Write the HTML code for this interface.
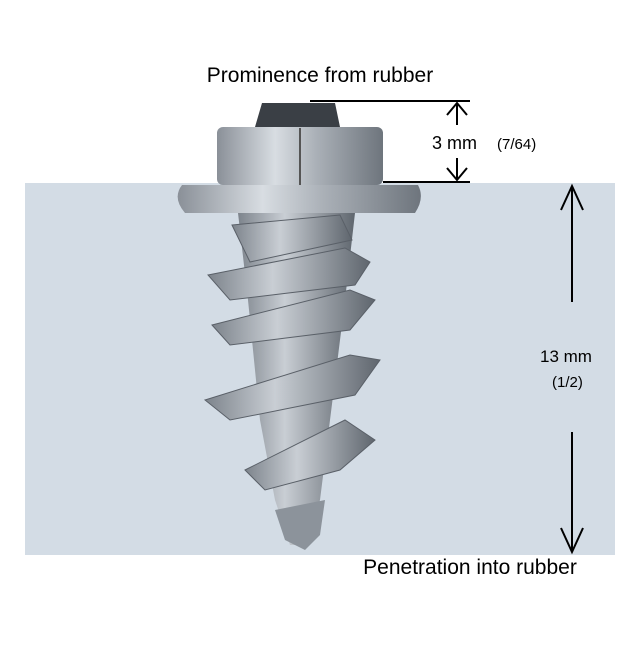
<!DOCTYPE html>
<html><head><style>
body{margin:0;width:640px;height:640px;background:#fff;overflow:hidden;font-family:"Liberation Sans",sans-serif}
</style></head><body>
<svg width="640" height="640" viewBox="0 0 640 640" xmlns="http://www.w3.org/2000/svg">
<defs>
<linearGradient id="m" x1="0" x2="1" y1="0" y2="0">
<stop offset="0" stop-color="#8a9098"/><stop offset="0.35" stop-color="#d8dde2"/><stop offset="0.6" stop-color="#aab0b7"/><stop offset="1" stop-color="#6e757d"/>
</linearGradient>
<linearGradient id="t" x1="0" x2="1" y1="0" y2="0">
<stop offset="0" stop-color="#7d848c"/><stop offset="0.4" stop-color="#c9ced4"/><stop offset="1" stop-color="#5f666e"/>
</linearGradient>
</defs>
<rect x="25" y="183" width="590" height="372" fill="#d3dce5"/>
<path d="M262 103 L335 103 L340 127 L255 127 Z" fill="#3a3f45"/>
<rect x="217" y="127" width="166" height="58" rx="6" fill="url(#m)"/>
<line x1="300" y1="128" x2="300" y2="185" stroke="#555" stroke-width="2"/>
<path d="M182 185 L418 185 Q425 198 415 213 L185 213 Q172 198 182 185Z" fill="url(#m)"/>
<path d="M238 213 L355 213 L345 300 L330 420 L320 500 L305 545 L290 545 L275 500 L260 420 L248 300 Z" fill="url(#t)"/>
<path d="M232 225 L340 215 L352 240 L250 262 Z" fill="url(#t)" stroke="#5a6068"/>
<path d="M208 275 L345 248 L370 262 L355 285 L230 300 Z" fill="url(#t)" stroke="#5a6068"/>
<path d="M212 325 L350 290 L375 300 L350 330 L230 345 Z" fill="url(#t)" stroke="#5a6068"/>
<path d="M205 400 L350 355 L380 360 L355 395 L230 420 Z" fill="url(#t)" stroke="#5a6068"/>
<path d="M245 470 L345 420 L375 440 L340 470 L265 490 Z" fill="url(#t)" stroke="#5a6068"/>
<path d="M275 510 L325 500 L320 535 L305 550 L285 540 Z" fill="#8c939b"/>
<g stroke="#000" stroke-width="2" fill="none">
<line x1="310" y1="101" x2="470" y2="101"/>
<line x1="383" y1="182" x2="470" y2="182"/>
<line x1="457" y1="103" x2="457" y2="125"/><path d="M447 115 L457 103 L467 115"/>
<line x1="457" y1="158" x2="457" y2="180"/><path d="M447 168 L457 180 L467 168"/>
<line x1="572" y1="186" x2="572" y2="302"/><path d="M561 210 L572 186 L583 210"/>
<line x1="572" y1="432" x2="572" y2="552"/><path d="M561 528 L572 552 L583 528"/>
</g>
<g font-family="Liberation Sans, sans-serif" fill="#000">
<text x="320" y="82" font-size="21" text-anchor="middle">Prominence from rubber</text>
<text x="432" y="149" font-size="18">3 mm</text>
<text x="497" y="149" font-size="15">(7/64)</text>
<text x="540" y="362" font-size="17">13 mm</text>
<text x="552" y="387" font-size="15">(1/2)</text>
<text x="470" y="574" font-size="21" text-anchor="middle">Penetration into rubber</text>
</g>
</svg>
</body></html>
